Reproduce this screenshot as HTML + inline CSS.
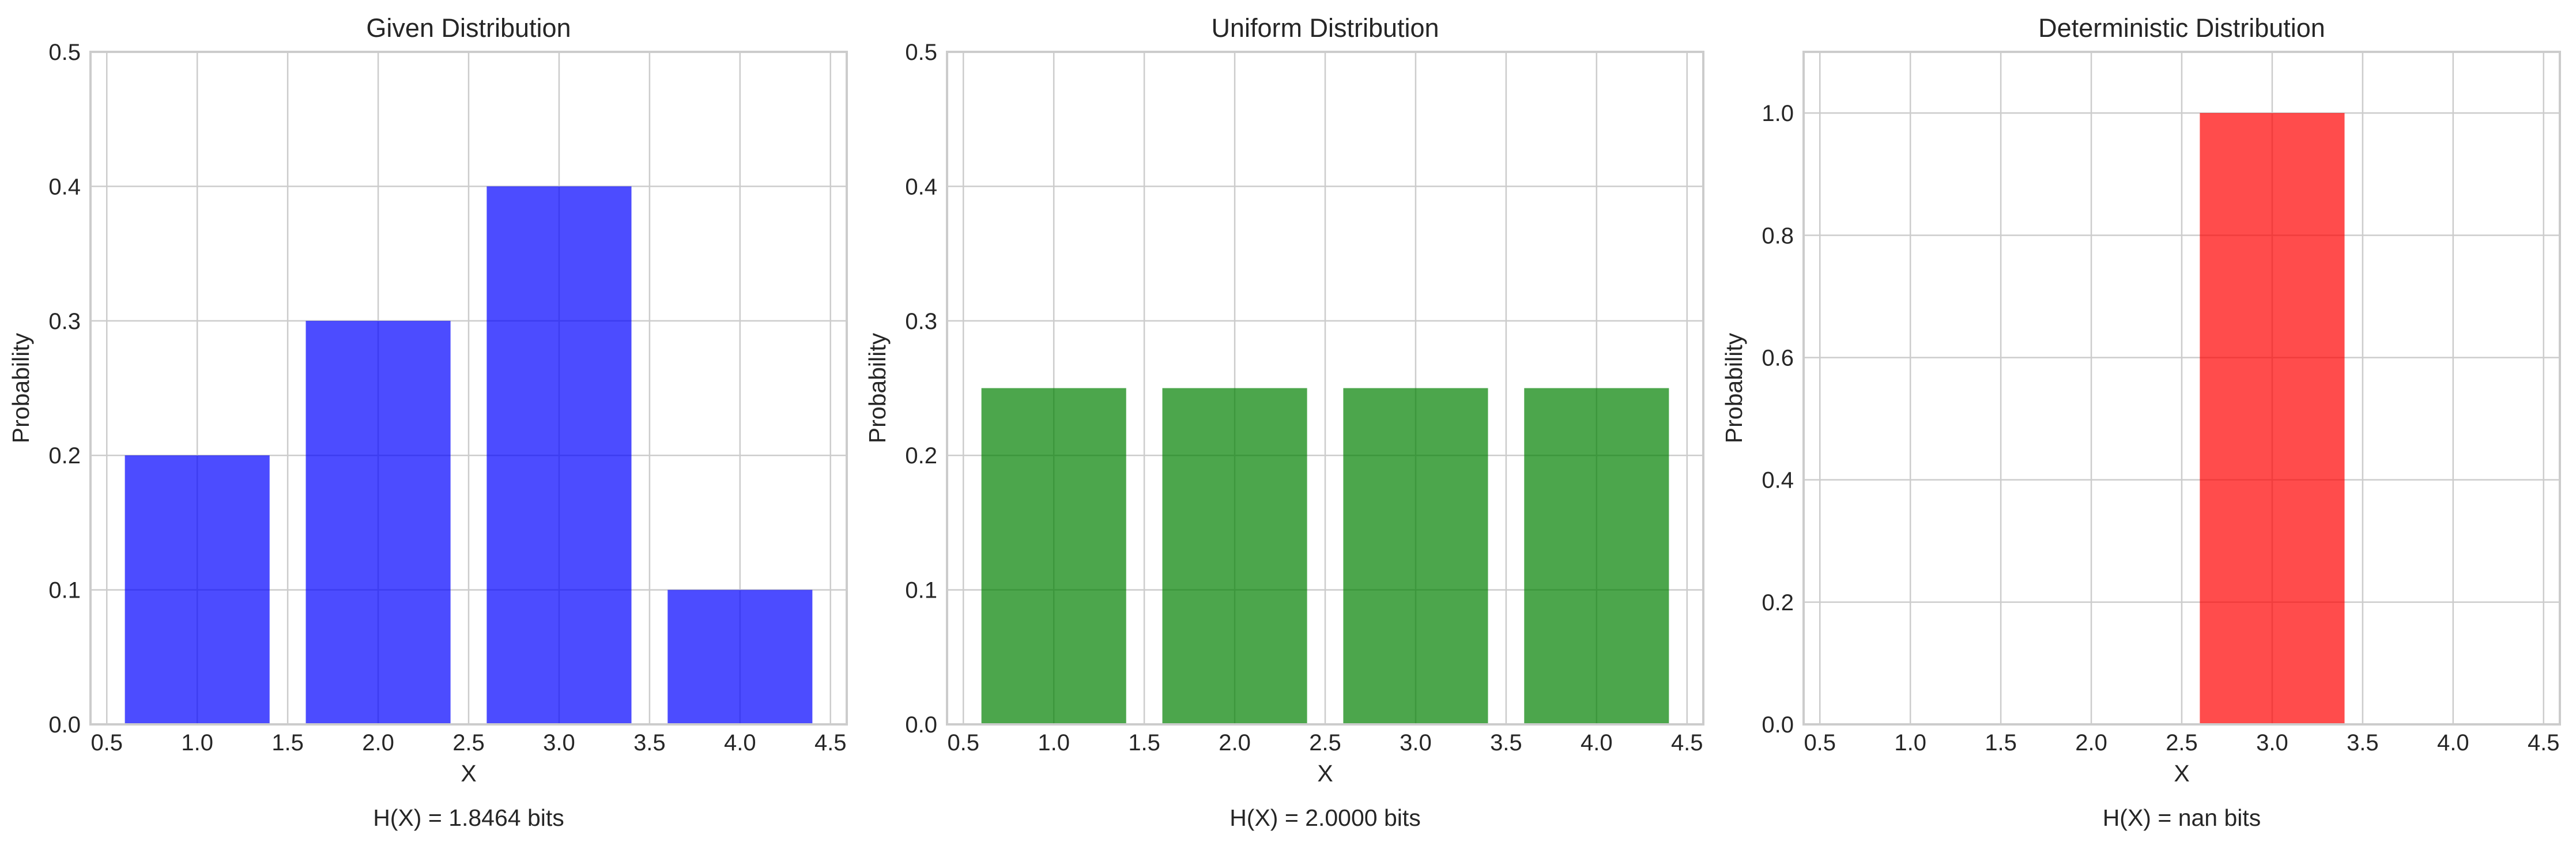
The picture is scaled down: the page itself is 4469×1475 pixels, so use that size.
<!DOCTYPE html>
<html><head><meta charset="utf-8"><style>
html,body{margin:0;padding:0;background:#fff;}
svg text{font-family:"Liberation Sans",Arial,sans-serif;fill:#262626;}
</style></head><body>
<svg id="chart" width="4469" height="1470" xmlns="http://www.w3.org/2000/svg"></svg>
<script>
const categories = [1, 2, 3, 4];
const givenValues = [0.2, 0.3, 0.4, 0.1];
const uniformValues = [0.25, 0.25, 0.25, 0.25];
const deterministicValues = [0, 0, 1.0, 0];
const xTickLabels = ["0.5","1.0","1.5","2.0","2.5","3.0","3.5","4.0","4.5"];
const yTicksSmall = ["0.0","0.1","0.2","0.3","0.4","0.5"];
const yTicksLarge = ["0.0","0.2","0.4","0.6","0.8","1.0"];
const titles = ["Given Distribution","Uniform Distribution","Deterministic Distribution"];
const entropyLabels = ["H(X) = 1.8464 bits","H(X) = 2.0000 bits","H(X) = nan bits"];

const svg = document.getElementById('chart');
const NS = "http://www.w3.org/2000/svg";
function mk(tag, attrs, parent){ const e=document.createElementNS(NS,tag); for(const k in attrs) e.setAttribute(k,attrs[k]); (parent||svg).appendChild(e); return e; }

const panels = [
  {left:157, values:givenValues, color:"#0000ff", yTicks:yTicksSmall, ymax:0.5, slug:"given"},
  {left:1643, values:uniformValues, color:"#008000", yTicks:yTicksSmall, ymax:0.5, slug:"uniform"},
  {left:3129, values:deterministicValues, color:"#ff0000", yTicks:yTicksLarge, ymax:1.1, slug:"deterministic"}
];
const W=1312, axTop=90, axBottom=1257, xmin=0.41, xmax=4.59;

panels.forEach((p,i)=>{
  const g = mk('g',{});
  
  
  const xs = v => p.left + (v - xmin)/(xmax - xmin)*W;
  const ys = v => axBottom - v/p.ymax*(axBottom-axTop);
  xTickLabels.forEach(t=>{
    const x = xs(parseFloat(t));
    const l = mk('line',{x1:x,x2:x,y1:axTop,y2:axBottom,stroke:"#cccccc","stroke-width":2.5},g);
    
    
    const tx = mk('text',{x:x,y:1302,"font-size":40,"text-anchor":"middle"},g);
    tx.textContent=t;
    
    
  });
  p.yTicks.forEach(t=>{
    const y = ys(parseFloat(t));
    const l = mk('line',{x1:p.left,x2:p.left+W,y1:y,y2:y,stroke:"#cccccc","stroke-width":2.5},g);
    
    
    const tx = mk('text',{x:p.left-17,y:y+14,"font-size":40,"text-anchor":"end"},g);
    tx.textContent=t;
    
    
  });
  categories.forEach((c,j)=>{
    const v = p.values[j];
    if(v<=0) return;
    const x0 = xs(c-0.4), x1 = xs(c+0.4);
    const r = mk('rect',{x:x0,y:ys(v),width:x1-x0,height:axBottom-ys(v),fill:p.color,"fill-opacity":0.7},g);
    
    
  });
  const f = mk('rect',{x:p.left,y:axTop,width:W,height:axBottom-axTop,fill:"none",stroke:"#cccccc","stroke-width":4},g);
  
  
  const ti = mk('text',{x:p.left+W/2,y:64,"font-size":45,"text-anchor":"middle"},g);
  ti.textContent = titles[i];
  
  
  const xl = mk('text',{x:p.left+W/2,y:1356,"font-size":41,"text-anchor":"middle"},g);
  xl.textContent = "X";
  
  
  const yl = mk('text',{x:0,y:0,"font-size":41,"text-anchor":"middle",transform:"translate("+(p.left-107)+","+((axTop+axBottom)/2)+") rotate(-90)"},g);
  yl.textContent = "Probability";
  
  
  const hl = mk('text',{x:p.left+W/2,y:1433,"font-size":41,"text-anchor":"middle"},g);
  hl.textContent = entropyLabels[i];
  
  
});
</script>
</body></html>
